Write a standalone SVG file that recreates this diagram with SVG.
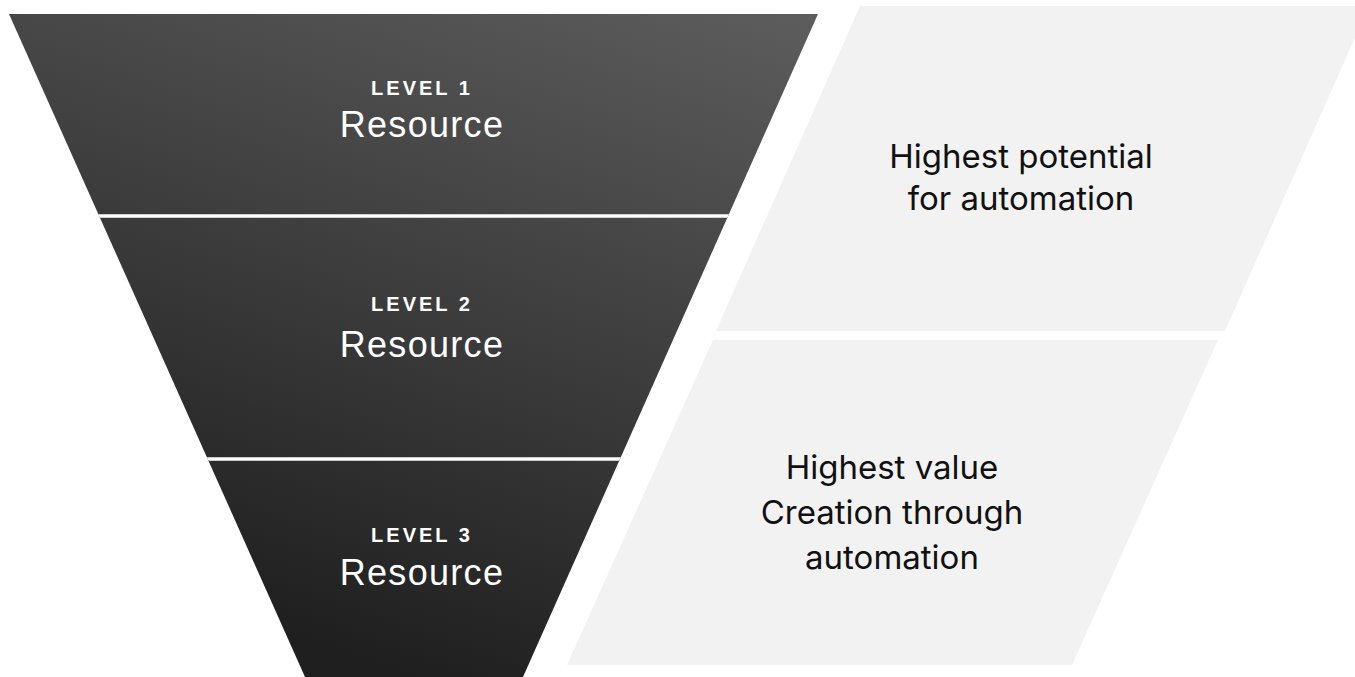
<svg xmlns="http://www.w3.org/2000/svg" width="1355" height="677" viewBox="0 0 1355 677">
  <defs>
    <linearGradient id="funnelGrad" gradientUnits="userSpaceOnUse" x1="410" y1="677" x2="661" y2="-40">
      <stop offset="0" stop-color="#1f1f1f"/>
      <stop offset="1" stop-color="#5d5d5d"/>
    </linearGradient>
    <clipPath id="funnelClip">
      <polygon points="9,14 818,14 523,677 305,677"/>
    </clipPath>
    <style>
      .band { fill: url(#funnelGrad); }
      .gap { stroke: #ffffff; stroke-width: 3.5; }
      .panel { fill: #f2f2f2; }
      .lvl { font-family: "Liberation Sans", Arial, sans-serif; font-weight: bold; font-size: 20px; letter-spacing: 3px; fill: #ffffff; text-anchor: middle; }
      .res { font-family: "Liberation Sans", Arial, sans-serif; font-size: 36px; letter-spacing: 1.3px; fill: #ffffff; text-anchor: middle; }
      .note { font-family: Inter, "Liberation Sans", sans-serif; font-size: 33px; fill: #111111; text-anchor: middle; }
    </style>
  </defs>

  <g id="panel-potential">
    <polygon class="panel" points="860,6 1369,6 1225,331 716,331"/>
    <text class="note" x="1021" y="168">Highest potential</text>
    <text class="note" x="1021" y="210">for automation</text>
  </g>

  <g id="panel-value">
    <polygon class="panel" points="713,340 1218,340 1072,665 567,665"/>
    <text class="note" x="892" y="479">Highest value</text>
    <text class="note" x="892" y="524">Creation through</text>
    <text class="note" x="892" y="569">automation</text>
  </g>

  <g id="funnel">
    <polygon class="band" points="9,14 818,14 523,677 305,677"/>
  </g>

  <g id="connectors" clip-path="url(#funnelClip)">
    <line class="gap" x1="0" y1="216" x2="830" y2="216"/>
    <line class="gap" x1="0" y1="459" x2="830" y2="459"/>
  </g>

  <g id="level1">
    <text class="lvl" x="422" y="95">LEVEL 1</text>
    <text class="res" x="422" y="137">Resource</text>
  </g>
  <g id="level2">
    <text class="lvl" x="422" y="311">LEVEL 2</text>
    <text class="res" x="422" y="357">Resource</text>
  </g>
  <g id="level3">
    <text class="lvl" x="422" y="542">LEVEL 3</text>
    <text class="res" x="422" y="585">Resource</text>
  </g>
</svg>
